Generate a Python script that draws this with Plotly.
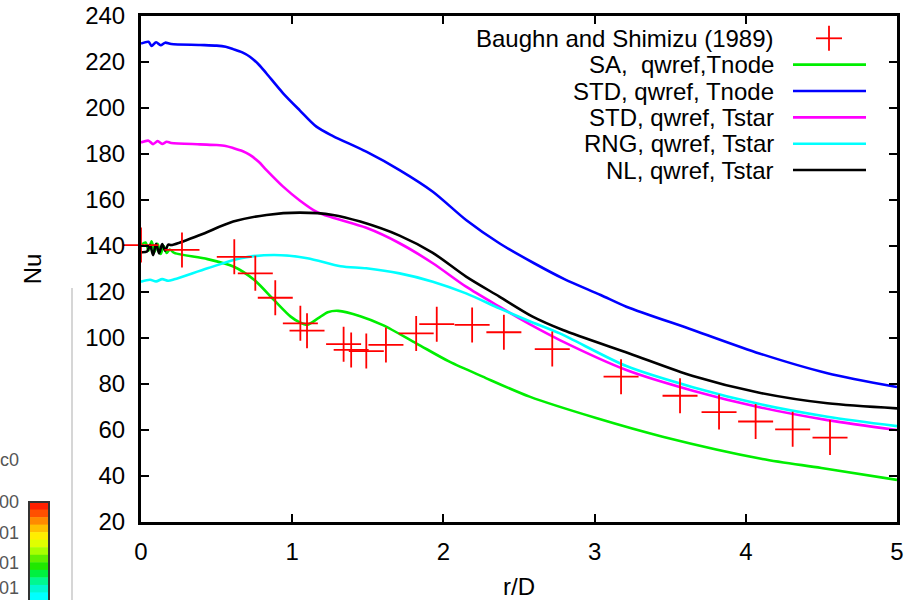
import plotly.graph_objects as go

# ---------------- data ----------------
exp_x = [0.0, 0.271, 0.617, 0.756, 0.888, 1.054, 1.098, 1.34, 1.39, 1.49, 1.62,
         1.82, 1.956, 2.19, 2.40, 2.72, 3.175, 3.565, 3.823, 4.065, 4.31, 4.557]
exp_nu = [140.4, 138.3, 135.3, 128.1, 117.5, 106.4, 103.2, 97.3, 94.8, 94.3, 97.0,
          102.0, 106.0, 105.7, 102.5, 95.2, 83.2, 74.9, 67.8, 63.7, 60.3, 56.7]

sa_x = [0.0, 0.03, 0.05, 0.07, 0.09, 0.11, 0.13, 0.15, 0.17, 0.19, 0.22, 0.44, 0.615,
        0.75, 0.88, 0.99, 1.05, 1.10, 1.17, 1.235, 1.305, 1.45, 1.60, 1.82, 2.04,
        2.26, 2.57, 3.01, 3.45, 4.11, 4.5, 5.0]
sa_nu = [140.4, 141.5, 138.0, 142.0, 137.5, 141.0, 136.5, 140.0, 137.0, 138.5, 137.0,
         134.3, 131.0, 125.2, 116.5, 109.3, 106.8, 105.8, 108.5, 111.2, 111.8, 109.5,
         105.6, 97.7, 89.7, 83.2, 74.5, 65.2, 57.1, 47.4, 43.5, 38.3]

std_tnode_x = [0.0, 0.05, 0.07, 0.1, 0.13, 0.16, 0.2, 0.39, 0.5, 0.56, 0.61, 0.67, 0.72,
               0.78, 0.83, 0.94, 1.05, 1.16, 1.27, 1.49, 1.71, 1.93, 2.15, 2.37, 2.6,
               2.8, 3.04, 3.21, 3.65, 4.09, 4.54, 5.0]
std_tnode_nu = [228.0, 228.8, 227.0, 228.6, 227.3, 228.4, 227.8, 227.4, 227.1, 226.6,
                225.6, 224.2, 222.3, 218.8, 215.0, 206.4, 199.0, 191.9, 187.8, 181.0,
                173.0, 163.6, 151.3, 141.2, 132.5, 125.6, 118.7, 113.6, 103.5, 93.3,
                84.7, 78.7]

std_tstar_x = [0.0, 0.05, 0.08, 0.11, 0.14, 0.17, 0.2, 0.39, 0.5, 0.56, 0.61, 0.67,
               0.72, 0.78, 0.83, 0.94, 1.05, 1.16, 1.27, 1.49, 1.71, 1.93, 2.15, 2.37,
               2.57, 2.77, 3.21, 3.65, 4.09, 4.54, 5.0]
std_tstar_nu = [185.0, 185.8, 184.3, 185.6, 184.4, 185.3, 184.8, 184.2, 183.9, 183.5,
                182.6, 181.3, 179.6, 176.5, 173.0, 165.8, 159.8, 154.9, 152.3, 147.9,
                141.2, 132.5, 122.3, 113.6, 106.0, 99.1, 86.1, 77.1, 69.9, 64.3, 60.0]

rng_x = [0.0, 0.06, 0.1, 0.14, 0.18, 0.22, 0.44, 0.66, 0.88, 1.10, 1.32, 1.49, 1.71,
         1.93, 2.15, 2.37, 2.57, 2.77, 3.21, 3.65, 4.09, 4.54, 5.0]
rng_nu = [124.5, 125.3, 124.6, 125.6, 124.9, 125.5, 130.3, 134.7, 136.1, 134.7, 131.2,
          130.3, 128.1, 124.5, 119.4, 112.9, 107.3, 102.0, 87.8, 78.6, 71.3, 65.8, 61.7]

nl_x = [0.0, 0.04, 0.06, 0.08, 0.10, 0.12, 0.14, 0.16, 0.18, 0.2, 0.39, 0.61, 0.83,
        1.05, 1.27, 1.45, 1.71, 1.93, 2.15, 2.37, 2.59, 2.79, 3.23, 3.65, 4.09, 4.54, 5.0]
nl_nu = [137.3, 137.6, 140.5, 136.0, 141.0, 136.8, 140.8, 138.0, 140.6, 140.4, 144.8,
         150.6, 153.5, 154.5, 153.5, 150.6, 144.5, 137.0, 126.7, 118.0, 109.3, 103.5,
         93.3, 83.5, 76.2, 71.6, 69.4]

legend_names = ["Baughn and Shimizu (1989)", "SA,  qwref,Tnode", "STD, qwref, Tnode",
                "STD, qwref, Tstar", "RNG, qwref, Tstar", "NL, qwref, Tstar"]
x_ticks = [0, 1, 2, 3, 4, 5]
y_ticks = [20, 40, 60, 80, 100, 120, 140, 160, 180, 200, 220, 240]

# ---------------- styling ----------------
FONT = "Liberation Sans, Arial, Helvetica, sans-serif"
RED = "#ff0000"
line_colors = ["#00ee00", "#0000ff", "#ff00ff", "#00ffff", "#000000"]

W, H = 916, 600
L, T = 141, 16
R = W - 897
B = H - 522
PW, PH = W - L - R, H - T - B


def px(xs):                  # screen pixel -> paper x
    return (xs - L) / PW


def py(ys):                  # screen pixel -> paper y
    return (H - B - ys) / PH


fig = go.Figure()

series = [(sa_x, sa_nu), (std_tnode_x, std_tnode_nu), (std_tstar_x, std_tstar_nu),
          (rng_x, rng_nu), (nl_x, nl_nu)]
for (xs, ys), name, col in zip(series, legend_names[1:], line_colors):
    fig.add_trace(go.Scatter(x=xs, y=ys, mode="lines", name=name,
                             line=dict(color=col, width=2.6, shape="spline", smoothing=0.8),
                             showlegend=False))

fig.add_trace(go.Scatter(x=exp_x, y=exp_nu, mode="markers", name=legend_names[0],
                         marker=dict(symbol="cross-thin", size=25,
                                     line=dict(color=RED, width=1.8)),
                         cliponaxis=False, showlegend=False))

shapes = []
annotations = []

# gnuplot-style key (text right-aligned, sample to the right)
row0, dy = 38.3, 26.35
for i, name in enumerate(legend_names):
    yy = row0 + i * dy
    annotations.append(dict(x=px(776), y=py(yy), xref="paper", yref="paper",
                            text=name, showarrow=False, xanchor="right", yanchor="middle",
                            font=dict(family=FONT, size=24, color="black")))
    if i == 0:
        shapes.append(dict(type="line", xref="paper", yref="paper",
                           x0=px(816), x1=px(842), y0=py(yy), y1=py(yy),
                           line=dict(color=RED, width=1.8)))
        shapes.append(dict(type="line", xref="paper", yref="paper",
                           x0=px(829), x1=px(829), y0=py(yy - 12.5), y1=py(yy + 12.5),
                           line=dict(color=RED, width=1.8)))
    else:
        shapes.append(dict(type="line", xref="paper", yref="paper",
                           x0=px(793), x1=px(866), y0=py(yy), y1=py(yy),
                           line=dict(color=line_colors[i - 1], width=2.6)))

# fragment of a neighbouring figure visible at the left edge
shapes.append(dict(type="line", xref="paper", yref="paper", x0=px(72), x1=px(72),
                   y0=py(288), y1=py(600), line=dict(color="#c8c8c8", width=1.5)))
cb_cols = ["#ff2000", "#ff5000", "#ff8a00", "#ffc000", "#ffee00", "#e0ff00", "#a8ff00",
           "#60f000", "#20e800", "#00f040", "#00f890", "#00f8d0", "#00ffff"]
top, bot = 502, 600
hh = (bot - top) / len(cb_cols)
for k, c in enumerate(cb_cols):
    shapes.append(dict(type="rect", xref="paper", yref="paper", x0=px(29), x1=px(49),
                       y0=py(top + k * hh), y1=py(min(bot, top + (k + 1) * hh + 0.5)),
                       fillcolor=c, line=dict(width=0)))
shapes.append(dict(type="rect", xref="paper", yref="paper", x0=px(29), x1=px(49),
                   y0=py(top), y1=py(bot + 2), line=dict(color="#333333", width=2)))
for txt, yy in [("c0", 460), ("00", 502), ("01", 533), ("01", 563), ("01", 588)]:
    annotations.append(dict(x=px(21), y=py(yy), xref="paper", yref="paper", text=txt,
                            showarrow=False, xanchor="right", yanchor="middle",
                            font=dict(family=FONT, size=18, color="#555555")))

axis_common = dict(showline=True, linecolor="black", linewidth=3, mirror="ticks",
                   ticks="inside", ticklen=8, tickwidth=2, tickcolor="black",
                   showgrid=False, zeroline=False, automargin=False,
                   ticklabeloverflow="allow",
                   tickfont=dict(family=FONT, size=24, color="black"))

fig.update_layout(
    width=W, height=H, margin=dict(l=L, r=R, t=T, b=B),
    paper_bgcolor="white", plot_bgcolor="white",
    xaxis=dict(range=[0, 5], tickvals=x_ticks, ticklabelstandoff=6,
               title=dict(text="r/D", font=dict(family=FONT, size=24, color="black"),
                          standoff=18),
               **axis_common),
    yaxis=dict(range=[20, 240], tickvals=y_ticks, ticklabelstandoff=8,
               title=dict(text="Nu", font=dict(family=FONT, size=24, color="black"),
                          standoff=37),
               **axis_common),
    shapes=shapes, annotations=annotations, showlegend=False,
)

fig.write_html("out.html", config={"displayModeBar": False},
               post_script="document.body.style.margin='0px';"
                           "document.body.style.overflow='hidden';")
